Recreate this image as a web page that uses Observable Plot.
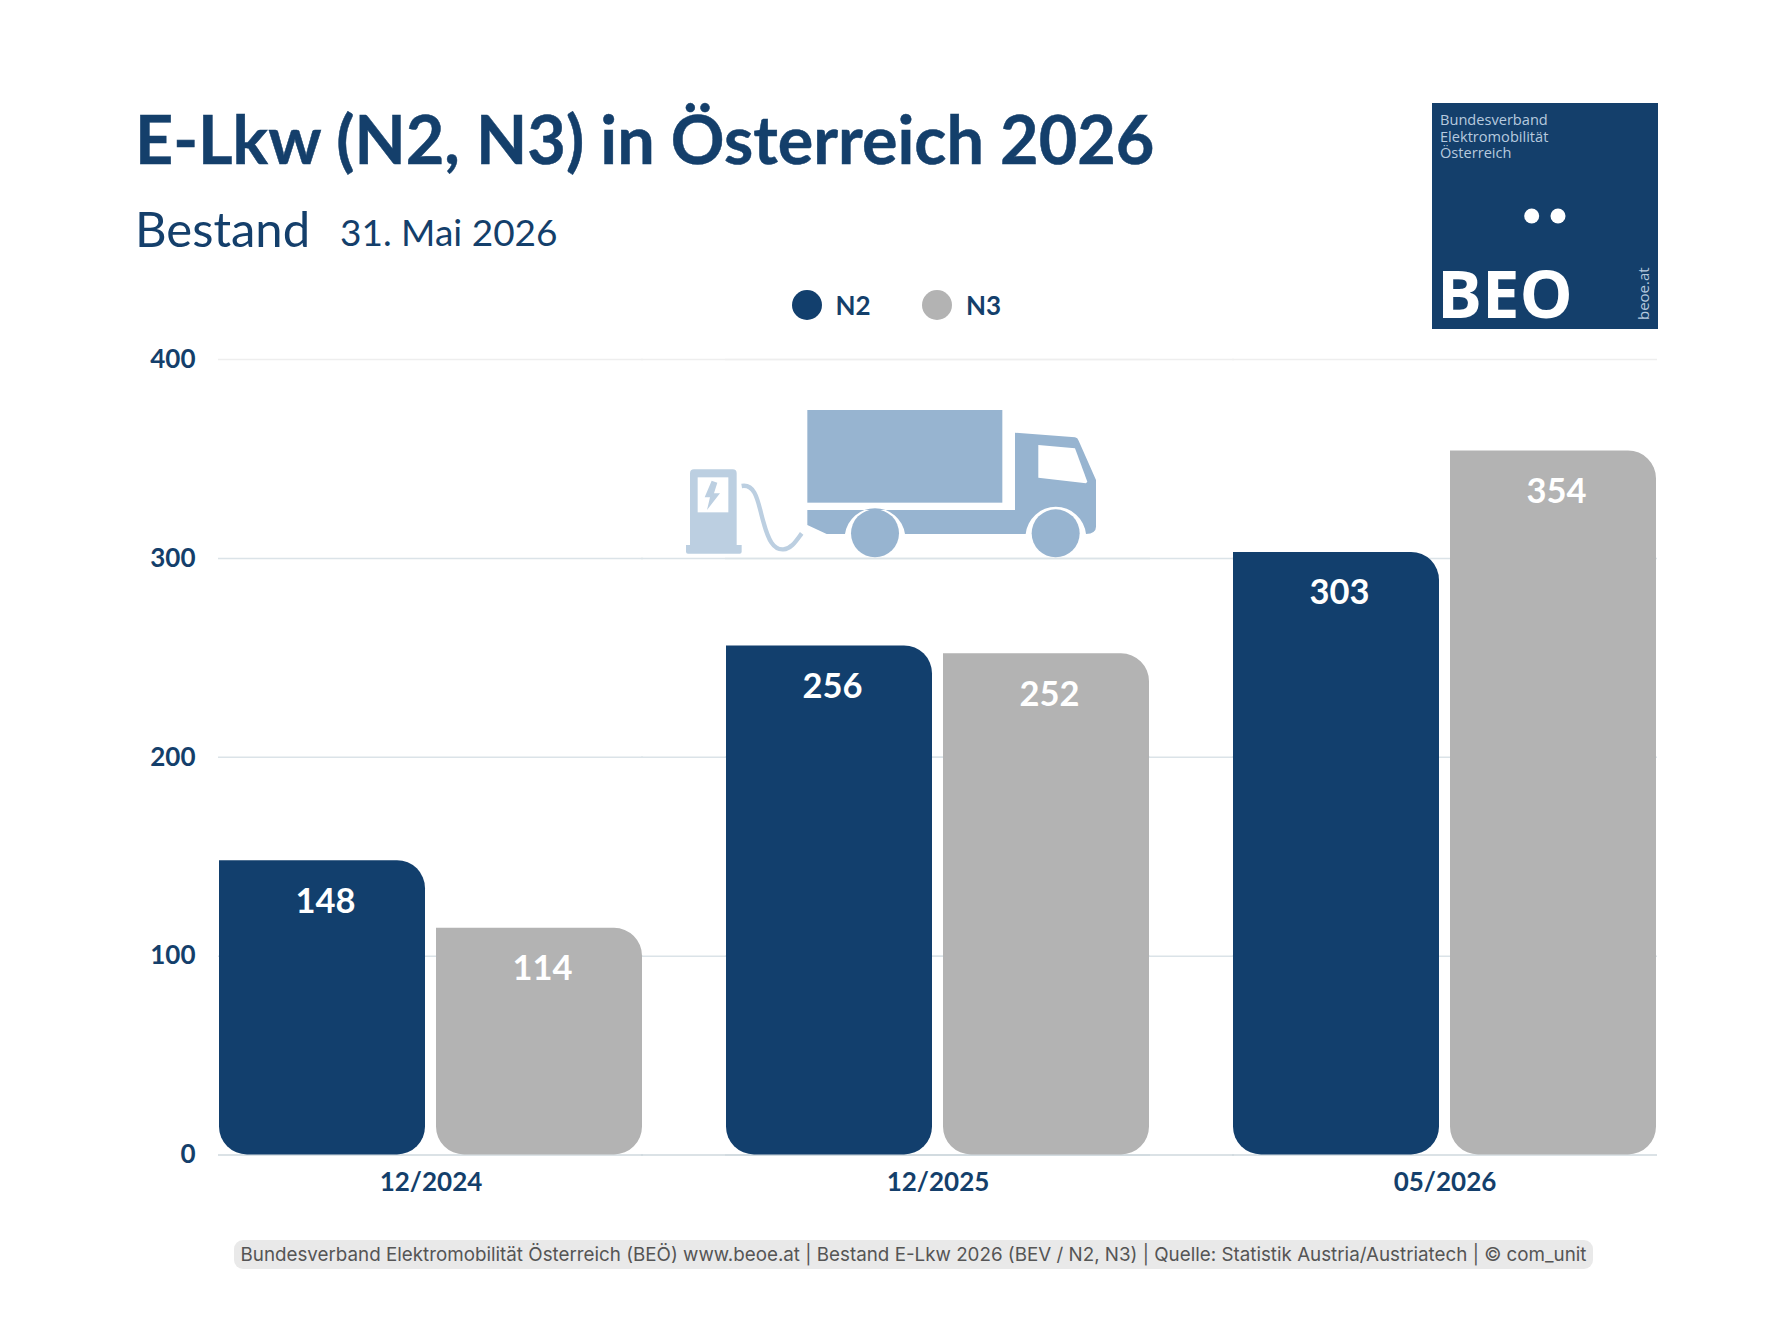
<!DOCTYPE html>
<html lang="de">
<head>
<meta charset="utf-8">
<script src="https://cdn.jsdelivr.net/npm/d3@7"></script>
<script src="https://cdn.jsdelivr.net/npm/@observablehq/plot@0.6"></script>
<style>
html,body{margin:0;padding:0;background:#fff;}
#page{position:relative;width:1792px;height:1344px;overflow:hidden;font-family:Lato,sans-serif;color:#143f6b;}
#head{position:relative;height:340px;}
#title{position:absolute;left:135px;top:96px;font-size:66.5px;font-weight:700;line-height:84px;white-space:nowrap;margin:0;-webkit-text-stroke:0.5px #143f6b;}
#sub1{position:absolute;left:135px;top:198px;font-size:49px;line-height:60px;white-space:nowrap;}
#sub2{position:absolute;left:340px;top:208px;font-size:37px;line-height:48px;white-space:nowrap;}
.lg{position:absolute;top:290px;display:flex;align-items:center;font-size:26px;font-weight:700;line-height:30px;}
.lg i{display:block;width:30px;height:30px;border-radius:50%;margin-right:14px;}
#chart{position:relative;height:860px;}
#chart svg{display:block;}
#footer{position:absolute;left:234px;top:1240px;width:1359px;height:29px;border-radius:9px;background:#e9e9e9;color:#555;font:18.8px/29px Inter,sans-serif;text-align:center;white-space:nowrap;}
.deco{position:absolute;overflow:visible;}
</style>
</head>
<body>
<div id="page">
  <div id="head">
    <h1 id="title">E-Lkw (N2, N3) in Österreich 2026</h1>
    <div id="sub1">Bestand</div>
    <div id="sub2">31. Mai 2026</div>
    <div id="legend"></div>
    <svg class="deco" style="left:1432px;top:103px" width="226" height="226" viewBox="0 0 226 226">
      <rect width="226" height="226" fill="#143f6b"/>
      <g font-family="Open Sans" font-size="14.6" fill="#b7cadf">
        <text x="8" y="22">Bundesverband</text>
        <text x="8" y="39">Elektromobilität</text>
        <text x="8" y="55">Österreich</text>
        <text transform="translate(217 217) rotate(-90)" font-size="15">beoe.at</text>
      </g>
      <circle cx="99.7" cy="113" r="7.5" fill="#fff"/>
      <circle cx="126" cy="113" r="7.5" fill="#fff"/>
      <text x="5" y="215" font-family="Open Sans" font-weight="700" font-size="67" fill="#fff">BEO</text>
    </svg>
  </div>
  <div id="chart"></div>
  <svg class="deco" style="left:660px;top:390px" width="460" height="200" viewBox="0 0 1380 600">
    <g fill="#bccfe1">
      <path d="M90 250q0-12 12-12h116q12 0 12 12v215h15v20q0 6-6 6H84q-6 0-6-6v-20h12z"/>
    </g>
    <rect x="113" y="262" width="92" height="105" fill="#fff"/>
    <path d="M155 272L134 322L150 322L141 360L180 310L162 310L172 278z" fill="#bccfe1"/>
    <path d="M245 288C290 280 295 345 310 395C325 450 340 480 370 478C395 476 410 450 425 430" fill="none" stroke="#bccfe1" stroke-width="13"/>
    <g fill="#97b4d0">
      <rect x="442" y="60" width="585" height="278"/>
      <path d="M442 360H1065V128L1245 142Q1253 143 1256 152L1308 270V410Q1308 430 1278 432A91 91 0 0 0 1097 432H735A91 91 0 0 0 555 432H500L442 405z"/>
      <circle cx="645" cy="430" r="72"/>
      <circle cx="1187" cy="430" r="72"/>
    </g>
    <path d="M1135 165L1245 175L1282 275L1278 280L1135 263z" fill="#fff"/>
  </svg>
  <div id="footer">Bundesverband Elektromobilität Österreich (BEÖ) www.beoe.at | Bestand E-Lkw 2026 (BEV / N2, N3) | Quelle: Statistik Austria/Austriatech | © com_unit</div>
</div>
<script>
const dates = ["12/2024", "12/2025", "05/2026"];
const types = ["N2", "N3"];
const n2 = [148, 256, 303];
const n3 = [114, 252, 354];
const yTicks = [0, 100, 200, 300, 400];
const colors = ["#123f6d", "#b3b3b3"];
const navy = "#143f6b";

const rows = dates.flatMap((date, i) => [
  {date, type: "N2", value: n2[i]},
  {date, type: "N3", value: n3[i]}
]);

const legend = document.getElementById("legend");
types.forEach((t, i) => {
  const el = document.createElement("div");
  el.className = "lg";
  el.style.left = (i === 0 ? 791.5 : 922) + "px";
  el.innerHTML = `<i style="background:${colors[i]}"></i>${t}`;
  legend.appendChild(el);
});

// A rule in every facet, plus one in the middle facet widened across the gaps.
const grid = (values, stroke) => [
  Plot.ruleY(values, {stroke, strokeWidth: 1.5}),
  Plot.ruleY(values, {fx: () => dates[1], stroke, strokeWidth: 1.5, insetLeft: -84, insetRight: -84})
];

const chart = Plot.plot({
  width: 1792,
  height: 860,
  marginTop: 19,
  marginBottom: 45.5,
  marginLeft: 217,
  marginRight: 134,
  style: {fontFamily: "Lato", background: "transparent"},
  fx: {domain: dates, paddingInner: 0.1626, paddingOuter: 0, label: null},
  x: {domain: types, paddingInner: 0.05, paddingOuter: 0, axis: null, label: null},
  y: {domain: [0, 400], label: null},
  color: {domain: types, range: colors},
  marks: [
    ...grid([100, 200, 300], "#dbe3e8"),
    ...grid([400], "#eeeeee"),
    ...grid([0], "#cfd8de"),
    Plot.axisY({ticks: yTicks, tickSize: 0, tickPadding: 23, label: null, fontSize: 26, fontWeight: 700, fill: navy}),
    Plot.axisFx({anchor: "bottom", tickSize: 0, tickPadding: 18, label: null, fontSize: 26, fontWeight: 700, fill: navy}),
    Plot.barY(rows, {fx: "date", x: "type", y: "value", fill: "type", ry2: 28, rx2: 28}),
    Plot.text(rows, {fx: "date", x: "type", y: "value", text: "value", dy: 41, dx: 3, fill: "#fff", fontSize: 34.5, fontWeight: 700})
  ]
});
document.getElementById("chart").appendChild(chart);
</script>
</body>
</html>
